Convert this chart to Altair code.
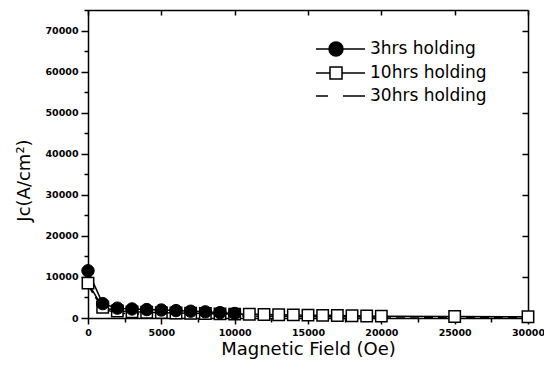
import altair as alt
import pandas as pd

series_names = ["3hrs holding", "10hrs holding", "30hrs holding"]

x_3h = [0, 1000, 2000, 3000, 4000, 5000, 6000, 7000, 8000, 9000, 10000]
y_3h = [11500, 3500, 2400, 2200, 2050, 1950, 1800, 1650, 1500, 1300, 1100]

x_10h = [0, 1000, 2000, 3000, 4000, 5000, 6000, 7000, 8000, 9000, 10000,
         11000, 12000, 13000, 14000, 15000, 16000, 17000, 18000, 19000, 20000,
         25000, 30000]
y_10h = [8500, 2600, 1700, 1500, 1400, 1300, 1200, 1150, 1100, 1000, 950,
         900, 850, 800, 750, 700, 650, 600, 550, 500, 450, 350, 300]

x_30h = [0, 1000, 2000, 3000, 4000, 5000, 6000, 8000, 10000, 15000, 20000, 25000, 30000]
y_30h = [8000, 2200, 1200, 1000, 900, 800, 700, 600, 500, 350, 250, 180, 120]

x_ticks = [0, 5000, 10000, 15000, 20000, 25000, 30000]
x_minor = [2500, 7500, 12500, 17500, 22500, 27500]
y_ticks = [0, 10000, 20000, 30000, 40000, 50000, 60000, 70000]
y_minor = [5000, 15000, 25000, 35000, 45000, 55000, 65000, 75000]

rows = []
for name, xs, ys in [(series_names[0], x_3h, y_3h),
                     (series_names[1], x_10h, y_10h),
                     (series_names[2], x_30h, y_30h)]:
    for a, b in zip(xs, ys):
        rows.append({"series": name, "field": a, "jc": b})
df = pd.DataFrame(rows)

FONT = "DejaVu Sans"
W, H = 440, 308
xs_ = alt.Scale(domain=[0, 30000], nice=False, zero=False)
ys_ = alt.Scale(domain=[0, 75000], nice=False, zero=False)

base = alt.Chart(df)

ax_x = alt.Axis(values=x_ticks, title="Magnetic Field (Oe)", format="d", grid=False,
                tickSize=6, tickWidth=1.5, domainWidth=1.5, domainColor="black", tickColor="black",
                labelFont=FONT, labelFontSize=9.5, labelFontWeight="bold", labelColor="black",
                labelPadding=3, labelFlush=False,
                titleFont=FONT, titleFontSize=18, titleFontWeight="normal", titleColor="black",
                titlePadding=4)
ax_y = alt.Axis(values=y_ticks, title="Jc(A/cm²)", format="d", grid=False,
                tickSize=7, tickWidth=1.5, domainWidth=1.5, domainColor="black", tickColor="black",
                labelFont=FONT, labelFontSize=9.5, labelFontWeight="bold", labelColor="black",
                labelPadding=3,
                titleFont=FONT, titleFontSize=18, titleFontWeight="normal", titleColor="black",
                titleX=-55, titleY=170)

line_solid = base.transform_filter(alt.datum.series != series_names[2]).mark_line(
    color="black", strokeWidth=1.5
).encode(
    x=alt.X("field:Q", scale=xs_, axis=ax_x),
    y=alt.Y("jc:Q", scale=ys_, axis=ax_y),
    detail="series:N",
)

line_dash = base.transform_filter(alt.datum.series == series_names[2]).mark_line(
    color="black", strokeWidth=1.5, strokeDash=[9, 5]
).encode(x=alt.X("field:Q", scale=xs_, axis=None), y=alt.Y("jc:Q", scale=ys_, axis=None))

squares = base.transform_filter(alt.datum.series == series_names[1]).mark_point(
    shape="square", filled=True, fill="white", stroke="black", strokeWidth=1.5, size=130, opacity=1
).encode(x=alt.X("field:Q", scale=xs_, axis=None), y=alt.Y("jc:Q", scale=ys_, axis=None))

circles = base.transform_filter(alt.datum.series == series_names[0]).mark_point(
    shape="circle", filled=True, fill="black", stroke="black", strokeWidth=1, size=154, opacity=1
).encode(x=alt.X("field:Q", scale=xs_, axis=None), y=alt.Y("jc:Q", scale=ys_, axis=None))

sym_paths = [
    "M-1.667,0H-0.583M0.583,0H2.417M-0.583,0A0.583,0.583 0 1,0 0.583,0A0.583,0.583 0 1,0 -0.583,0Z",
    "M-1.667,0H-0.5M0.5,0H2.417M-0.5,-0.5H0.5V0.5H-0.5Z",
    "M-1.667,0H-0.667M0.583,0H2.417",
]

leg = alt.Legend(title=None, orient="none", legendX=235, legendY=26,
                 labelFont=FONT, labelFontSize=17, labelColor="black",
                 symbolSize=576, symbolStrokeWidth=1.5, symbolOpacity=1,
                 labelOffset=21, rowPadding=1, padding=0)

legend_layer = base.transform_filter(alt.datum.field == 0).mark_point(
    filled=True, strokeWidth=1.5, size=0
).encode(
    x=alt.X("field:Q", scale=xs_, axis=None),
    y=alt.Y("jc:Q", scale=ys_, axis=None),
    shape=alt.Shape("series:N", scale=alt.Scale(domain=series_names, range=sym_paths), legend=leg),
    fill=alt.Fill("series:N", scale=alt.Scale(domain=series_names, range=["black", "white", "white"]),
                  legend=leg),
    stroke=alt.Stroke("series:N", scale=alt.Scale(domain=series_names, range=["black", "black", "black"]),
                      legend=leg),
)

frame_top_right = base.transform_filter(alt.datum.field == 0).mark_point(size=0).encode(
    x=alt.X("field:Q", scale=xs_, axis=alt.Axis(orient="bottom", offset=-H, values=x_ticks, tickSize=5,
                                                 grid=False, labels=False, title=None, domainColor="black",
                                                 domainWidth=1.5, tickColor="black", tickWidth=1.5)),
    y=alt.Y("jc:Q", scale=ys_, axis=alt.Axis(orient="left", offset=-W, values=y_ticks, tickSize=6,
                                              grid=False, labels=False, title=None, domainColor="black",
                                              domainWidth=1.5, tickColor="black", tickWidth=1.5)),
)

minor = base.transform_filter(alt.datum.field == 0).mark_point(size=0).encode(
    x=alt.X("field:Q", scale=xs_, axis=alt.Axis(orient="bottom", values=x_minor, tickSize=4, domain=False,
                                                 grid=False, labels=False, title=None,
                                                 tickColor="black", tickWidth=1.5)),
    y=alt.Y("jc:Q", scale=ys_, axis=alt.Axis(orient="left", values=y_minor, tickSize=4, domain=False,
                                              grid=False, labels=False, title=None,
                                              tickColor="black", tickWidth=1.5)),
)

chart = alt.layer(line_solid, line_dash, squares, circles, legend_layer, frame_top_right, minor).resolve_axis(
    x="independent", y="independent"
).properties(
    width=W, height=H,
    padding={"left": 80, "top": 2, "right": 16, "bottom": 46},
    autosize=alt.AutoSizeParams(type="none"),
).configure_view(stroke=None)

chart.save("out.html", embed_options={"renderer": "svg", "actions": False})
